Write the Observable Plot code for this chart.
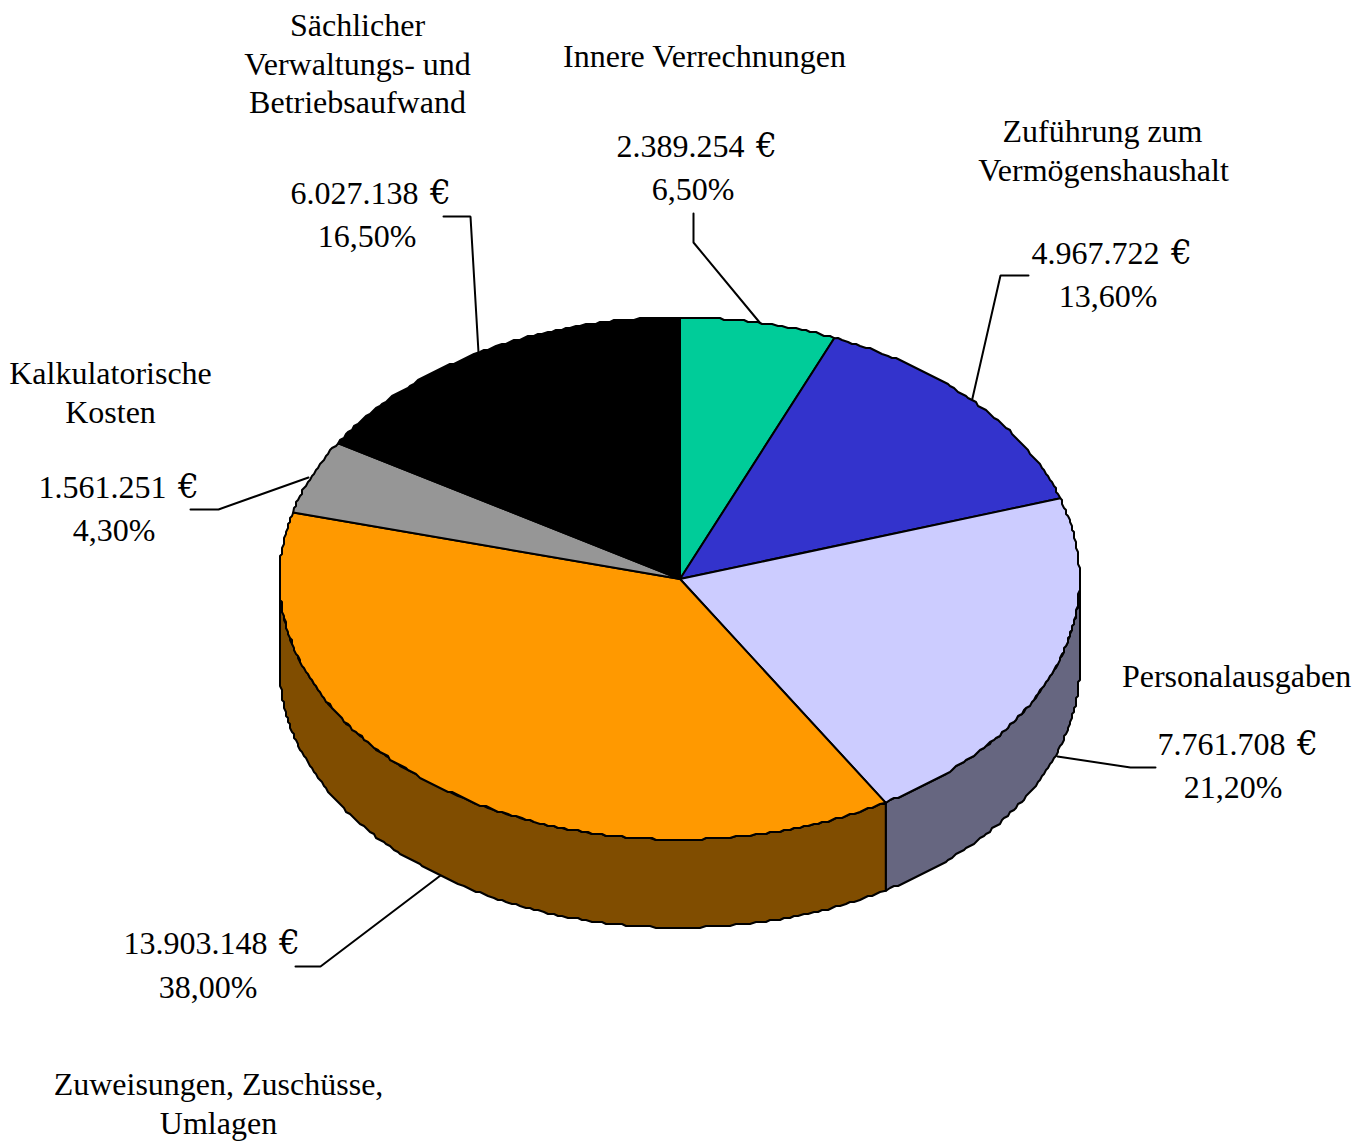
<!DOCTYPE html>
<html><head><meta charset="utf-8">
<style>html,body{margin:0;padding:0;background:#fff}svg{display:block}</style>
<script src="https://cdn.jsdelivr.net/npm/d3@7"></script>
<script src="https://cdn.jsdelivr.net/npm/@observablehq/plot@0.6"></script>
</head><body><div id="chart"></div>
<script>
const amounts = [2389254,4967722,7761708,13903148,1561251,6027138];
// wedge sizes in percent as measured on the drawn pie (printed labels round differently)
const sliceShares = [6.3,13.7,21.4,37.7,4.6,16.3];
const topColors = ["#00CC99","#3333CC","#CCCCFF","#FF9900","#969696","#000000"];
const sideColors = ["#006650","#1A1A66","#666680","#804D00","#4B4B4B","#000000"];

const nameLines = ["Sächlicher","Verwaltungs- und","Betriebsaufwand","16,50%","Innere Verrechnungen","6,50%","Zuführung zum","Vermögenshaushalt","13,60%","Personalausgaben","21,20%","Kalkulatorische","Kosten","4,30%","38,00%","Zuweisungen, Zuschüsse,","Umlagen"];
const nameX = [358,358,358,367.5,705,693.5,1103,1104,1108.5,1237,1233.5,111,111,114.5,208.5,219,219];
const nameY = [26,65,103,237,57,190,132,171,297,677,788,374,413,531,988,1085,1124];

// same order as amounts: right edge of the number, and row
const amountEndX = [744,1159,1285,267,166,418];
const amountY = [146,253,744,943,487,193];

const leaders = [
  [[693,213],[693,242],[760,323]],
  [[1028,275],[1000,275],[971,402]],
  [[1057,756],[1130,767],[1155,767]],
  [[295,966],[320,966],[440,875]],
  [[190,509],[218,509],[308,477]],
  [[443,216],[470,216],[478,352]]
];

const cx=679.5, cy=578.5, rx=400, ry=261, depth=88, grid=2;
const snap=v=>Math.round(v/grid)*grid;
const px=a=>cx+rx*Math.sin(a), py=a=>cy-ry*Math.cos(a);
const shareTotal=d3.sum(sliceShares);
let acc=0;
const arcs=sliceShares.map((v,i)=>{const s=acc/shareTotal*2*Math.PI;acc+=v;return {i,s,e:acc/shareTotal*2*Math.PI};});
// outline: exact at the wedge ends, coarsely rasterised in between like the source
const outline=(s,e,dy)=>{
  const n=Math.max(2,Math.ceil((e-s)*80));
  return d3.range(n+1).map(k=>{
    const a=s+(e-s)*k/n, x=px(a), y=py(a)+dy;
    return (k===0||k===n)?[x,y]:[snap(x)-0.5,snap(y)-0.5];
  });
};
const tops=[], walls=[];
for(const {i,s,e} of arcs){
  const pts=[[cx,cy],...outline(s,e,0),[cx,cy]];
  pts.forEach(p=>tops.push({x:p[0],y:p[1],id:i,c:topColors[i]}));
  const ws=Math.max(s,Math.PI/2), we=Math.min(e,3*Math.PI/2);
  if(we>ws){
    const wp=[...outline(ws,we,0),...outline(ws,we,depth).reverse()];
    wp.push(wp[0]);
    wp.forEach(p=>walls.push({x:p[0],y:p[1],id:i,c:sideColors[i]}));
  }
}
const leaderPts=leaders.flatMap((l,i)=>l.map(p=>({x:p[0],y:p[1],id:i})));
const names=nameLines.map((t,i)=>({t,x:nameX[i],y:nameY[i]}));
const fmt=d3.formatLocale({decimal:",",thousands:".",grouping:[3],currency:["","€"]}).format(",");
const amountRows=amounts.map((v,i)=>({t:fmt(v),x:amountEndX[i],y:amountY[i]}));
const serif="Liberation Serif";

const chart=Plot.plot({
  width:1371,height:1141,margin:0,
  x:{domain:[0,1371],range:[0,1371],axis:null},
  y:{domain:[0,1141],range:[0,1141],axis:null},
  color:{type:"identity"},
  style:{background:"#fff"},
  marks:[
    Plot.line(leaderPts,{x:"x",y:"y",z:"id",stroke:"#000",strokeWidth:2,strokeLinejoin:"miter"}),
    Plot.line(walls,{x:"x",y:"y",z:"id",fill:"c",stroke:"#000",strokeWidth:2,strokeLinejoin:"round"}),
    Plot.line(tops,{x:"x",y:"y",z:"id",fill:"c",stroke:"#000",strokeWidth:2,strokeLinejoin:"round"}),
    Plot.text(names,{x:"x",y:"y",text:"t",dx:-1,dy:-1,textAnchor:"middle",lineAnchor:"middle",fill:"#000",fontFamily:serif,fontSize:32}),
    Plot.text(amountRows,{x:"x",y:"y",text:"t",textAnchor:"end",lineAnchor:"middle",fill:"#000",fontFamily:serif,fontSize:32}),
    Plot.text(amountRows,{x:"x",y:"y",text:()=>"€",dx:22,dy:0,textAnchor:"middle",lineAnchor:"middle",fill:"#000",fontFamily:"DejaVu Serif",fontSize:33})
  ]
});
document.getElementById("chart").append(chart);
</script></body></html>
